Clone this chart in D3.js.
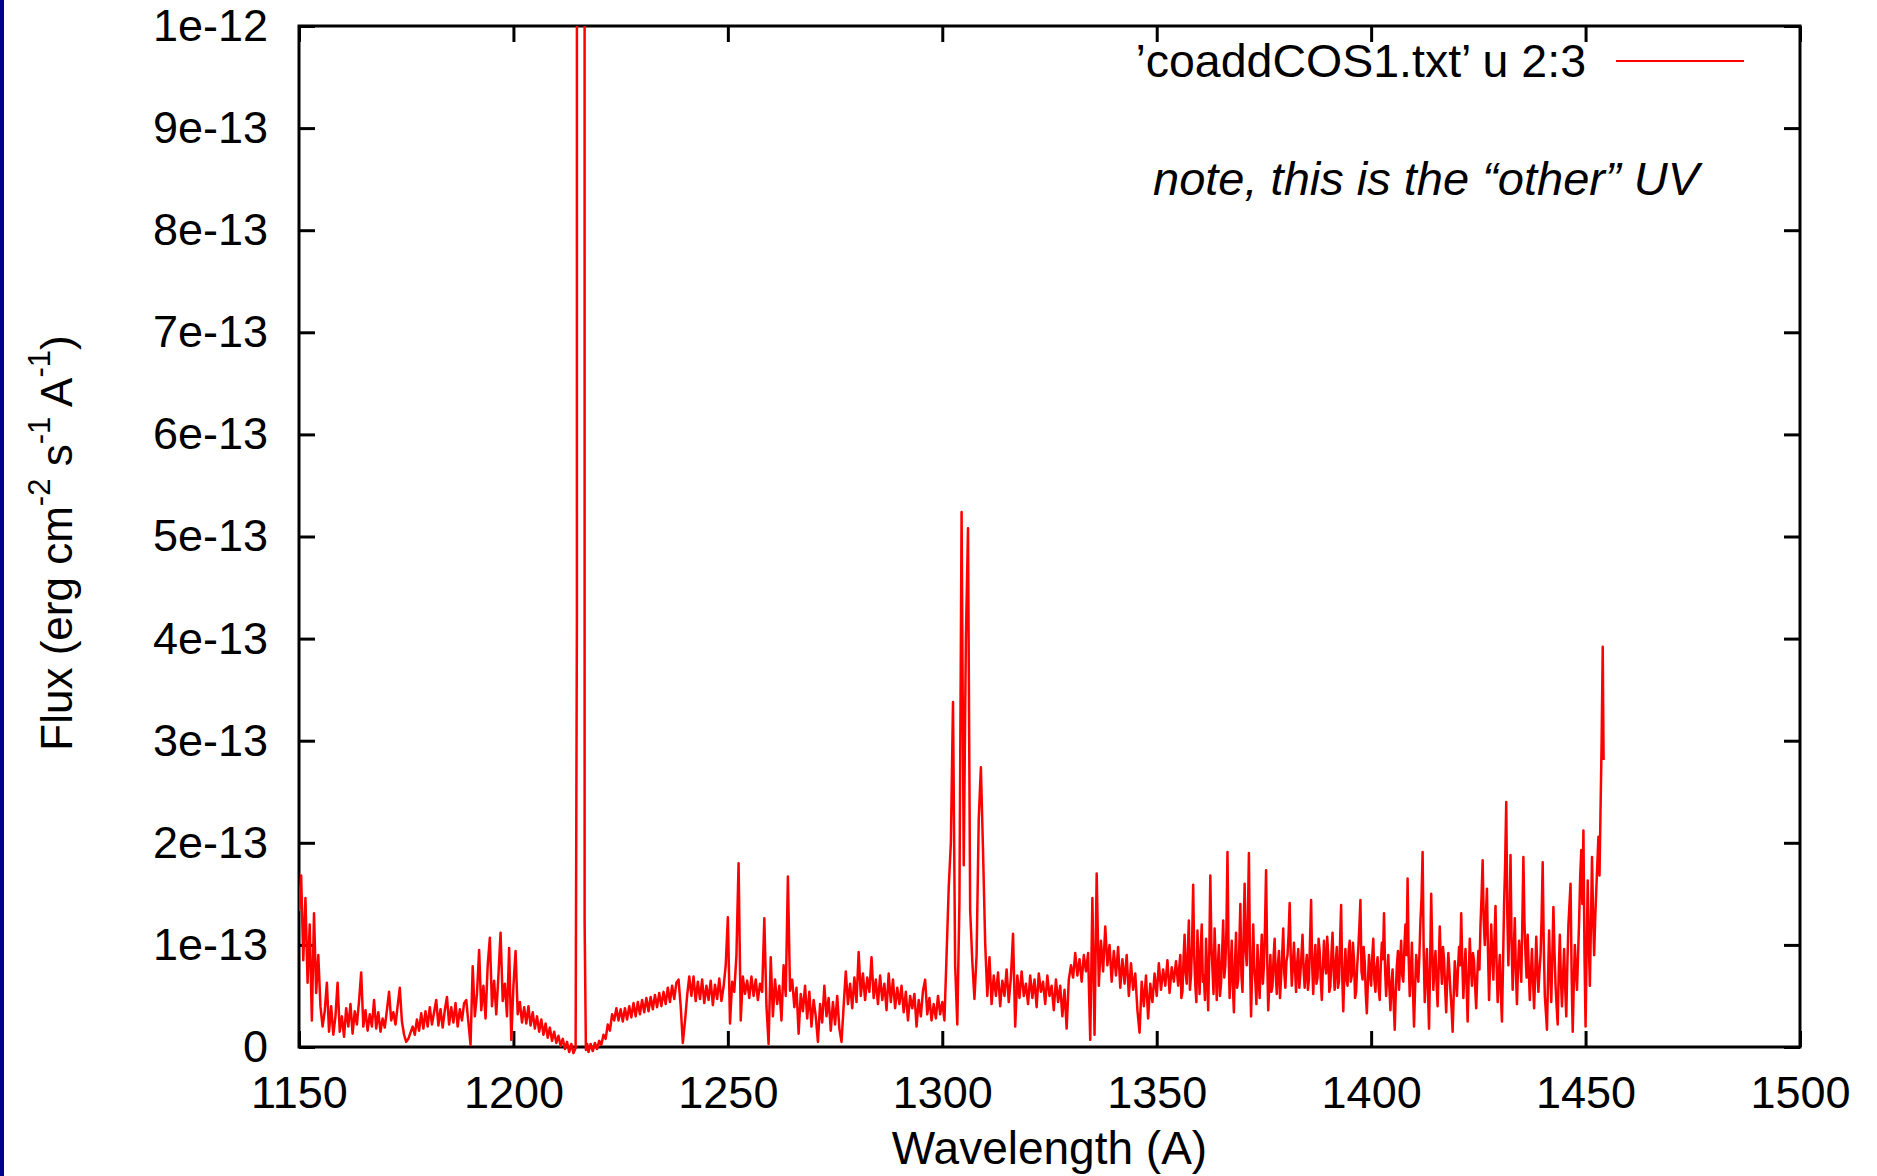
<!DOCTYPE html>
<html><head><meta charset="utf-8">
<script src="https://cdn.jsdelivr.net/npm/d3@7"></script>
<style>
html,body{margin:0;padding:0;background:#fff;}
svg{display:block;}
text{font-family:"Liberation Sans",Arial,Helvetica,sans-serif;fill:#000;}
</style></head><body>
<svg id="chart" width="1877" height="1176"></svg>
<script>
// ---- data ----
const xTicks = [1150,1200,1250,1300,1350,1400,1450,1500];
const xTickLabels = ["1150","1200","1250","1300","1350","1400","1450","1500"];
const yTicks = [0,1e-13,2e-13,3e-13,4e-13,5e-13,6e-13,7e-13,8e-13,9e-13,1e-12];
const yTickLabels = ["0","1e-13","2e-13","3e-13","4e-13","5e-13","6e-13","7e-13","8e-13","9e-13","1e-12"];
const xTitle = "Wavelength (A)";
const legendLabel = "\u2019coaddCOS1.txt\u2019 u 2:3";
const noteText = "note, this is the \u201cother\u201d UV";
const fluxUnit = 1e-14; // flux values below are in units of 1e-14 erg cm^-2 s^-1 A^-1
// [wavelength (A), flux (1e-14)]
const spectrum = [
[1150,13.3],[1150.5,16.8],[1151,8.5],[1151.5,14.6],[1152,6.3],[1152.5,12.0],[1153,2.6],[1153.5,13.1],[1154,5.3],[1154.5,9.0],
[1155,4.0],[1155.5,2.0],[1156,3.5],[1156.5,6.3],[1157,1.5],[1157.5,4.0],[1158,1.2],[1158.5,3.0],[1159,6.3],[1159.5,1.5],
[1160,3.0],[1160.5,1.0],[1161,3.8],[1161.5,2.0],[1162,4.2],[1162.5,1.3],[1163,3.5],[1163.5,2.2],[1164,4.5],[1164.5,7.3],
[1165,2.0],[1165.5,3.6],[1166,1.6],[1166.5,3.2],[1167,2.0],[1167.5,4.6],[1168,1.8],[1168.5,3.4],[1169,1.5],[1169.5,2.8],
[1170,1.9],[1170.5,3.6],[1171,5.4],[1171.5,2.6],[1172,3.4],[1172.5,2.2],[1173,4.0],[1173.5,5.8],[1174,2.5],[1174.5,1.2],
[1175,0.5],[1175.5,0.8],[1176,1.4],[1176.5,2.0],[1177,1.2],[1177.5,2.7],[1178,1.6],[1178.5,3.3],[1179,1.8],[1179.5,3.5],
[1180,2.0],[1180.5,3.9],[1181,2.2],[1181.5,3.4],[1182,4.6],[1182.5,2.1],[1183,3.7],[1183.5,1.9],[1184,3.6],[1184.5,4.9],
[1185,2.2],[1185.5,3.9],[1186,2.4],[1186.5,4.3],[1187,2.0],[1187.5,3.7],[1188,2.6],[1188.5,4.3],[1189,4.6],[1189.5,2.4],
[1190,0.2],[1190.5,7.9],[1191,3.0],[1191.5,5.2],[1192,9.5],[1192.5,3.6],[1193,6.0],[1193.5,2.8],[1194,8.0],[1194.5,10.7],
[1195,4.0],[1195.5,6.5],[1196,3.2],[1196.5,7.0],[1197,11.2],[1197.5,4.5],[1198,6.2],[1198.5,3.0],[1199,9.7],[1199.5,0.7],
[1200,6.0],[1200.5,9.4],[1201,3.2],[1201.5,4.4],[1202,2.4],[1202.5,3.9],[1203,2.3],[1203.5,4.0],[1204,2.1],[1204.5,3.4],
[1205,1.8],[1205.5,3.0],[1206,1.5],[1206.5,2.7],[1207,1.2],[1207.5,2.3],[1208,0.9],[1208.5,1.9],[1209,0.6],[1209.5,1.5],
[1210,0.4],[1210.5,1.1],[1211,0.1],[1211.5,0.8],[1212,-0.2],[1212.5,0.5],[1213,-0.5],[1213.5,0.3],[1214,-0.6],[1214.5,-0.1],
[1214.8,42],[1214.9,3000],[1215.8,3000],[1216.5,3000],[1216.6,12.3],[1216.9,-0.3],
[1217.2,0.3],[1217.5,-0.5],[1218,0.3],[1218.5,-0.4],[1219,0.4],[1219.5,-0.2],[1220,0.6],[1220.5,0.2],[1221,1.2],[1221.5,0.8],
[1222,2.2],[1222.5,1.6],[1223,3.2],[1223.5,2.6],[1224,3.8],[1224.5,2.6],[1225,3.7],[1225.5,2.5],[1226,3.8],[1226.5,2.7],
[1227,4.0],[1227.5,2.9],[1228,4.3],[1228.5,3.0],[1229,4.4],[1229.5,3.2],[1230,4.6],[1230.5,3.4],[1231,4.8],[1231.5,3.5],
[1232,4.9],[1232.5,3.7],[1233,5.1],[1233.5,3.9],[1234,5.3],[1234.5,4.0],[1235,5.4],[1235.5,4.2],[1236,5.8],[1236.5,4.4],
[1237,6.0],[1237.5,4.7],[1238,6.3],[1238.5,6.6],[1239,4.0],[1239.5,0.4],[1240,2.5],[1240.5,5.0],[1241,6.9],[1241.5,5.0],
[1242,6.9],[1242.5,4.5],[1243,6.4],[1243.5,4.7],[1244,6.6],[1244.5,4.3],[1245,6.0],[1245.5,4.6],[1246,6.5],[1246.5,4.1],
[1247,6.1],[1247.5,4.7],[1248,6.7],[1248.5,4.5],[1249,5.9],[1249.5,8.0],[1250,12.7],[1250.5,2.3],[1251,6.4],[1251.5,5.4],
[1252,9.0],[1252.5,18.0],[1253,2.6],[1253.5,6.9],[1254,5.2],[1254.5,6.5],[1255,4.8],[1255.5,6.9],[1256,5.0],[1256.5,6.6],
[1257,4.6],[1257.5,6.2],[1258,5.4],[1258.5,12.6],[1259,4.0],[1259.5,0.3],[1260,8.8],[1260.5,3.0],[1261,6.6],[1261.5,4.2],
[1262,6.0],[1262.5,2.6],[1263,8.0],[1263.5,5.0],[1264,16.7],[1264.5,5.5],[1265,6.6],[1265.5,3.9],[1266,5.8],[1266.5,1.3],
[1267,5.2],[1267.5,3.5],[1268,6.0],[1268.5,2.8],[1269,5.4],[1269.5,2.0],[1270,4.6],[1270.5,3.0],[1271,0.5],[1271.5,4.2],
[1272,2.4],[1272.5,6.0],[1273,3.0],[1273.5,4.8],[1274,1.6],[1274.5,4.4],[1275,2.2],[1275.5,5.0],[1276,1.8],[1276.5,0.5],
[1277,4.0],[1277.5,7.4],[1278,4.2],[1278.5,6.2],[1279,3.8],[1279.5,6.8],[1280,4.4],[1280.5,9.3],[1281,5.0],[1281.5,7.2],
[1282,4.6],[1282.5,6.8],[1283,5.4],[1283.5,8.8],[1284,4.8],[1284.5,6.6],[1285,4.2],[1285.5,7.0],[1286,4.6],[1286.5,6.2],
[1287,3.6],[1287.5,7.2],[1288,4.4],[1288.5,6.6],[1289,3.8],[1289.5,5.8],[1290,4.2],[1290.5,6.0],[1291,3.4],[1291.5,5.4],
[1292,2.6],[1292.5,5.0],[1293,3.8],[1293.5,5.2],[1294,2.0],[1294.5,4.6],[1295,3.0],[1295.5,5.5],[1296,6.6],[1296.5,3.2],
[1297,4.8],[1297.5,2.6],[1298,4.2],[1298.5,2.8],[1299,5.0],[1299.5,3.2],[1300,4.4],[1300.5,2.6],[1301,9.0],[1301.5,15.6],
[1302,20.0],[1302.5,33.8],[1303,8.0],[1303.5,2.2],[1304,14.2],[1304.5,52.4],[1305,17.8],[1305.5,39.9],[1306,50.8],[1306.5,13.4],
[1307,8.4],[1307.5,4.7],[1308,9.0],[1308.5,22.3],[1309,27.4],[1309.5,19.2],[1310,10.2],[1310.5,5.0],[1311,8.8],[1311.5,4.2],
[1312,7.0],[1312.5,5.0],[1313,7.3],[1313.5,4.0],[1314,6.5],[1314.5,5.0],[1315,7.6],[1315.5,4.4],[1316,6.8],[1316.5,11.1],
[1317,2.0],[1317.5,7.0],[1318,4.8],[1318.5,7.4],[1319,5.0],[1319.5,6.2],[1320,4.2],[1320.5,7.0],[1321,4.8],[1321.5,6.6],
[1322,3.9],[1322.5,7.2],[1323,5.4],[1323.5,6.4],[1324,4.2],[1324.5,7.0],[1325,5.0],[1325.5,6.0],[1326,3.6],[1326.5,6.6],
[1327,4.4],[1327.5,6.0],[1328,3.0],[1328.5,5.6],[1329,1.8],[1329.5,6.6],[1330,8.0],[1330.5,6.8],[1331,9.2],[1331.5,7.0],
[1332,8.6],[1332.5,6.4],[1333,9.0],[1333.5,7.4],[1334,9.2],[1334.5,0.7],[1335,14.6],[1335.5,1.2],[1336,17.0],[1336.5,6.0],
[1337,10.4],[1337.5,7.4],[1338,11.8],[1338.5,8.0],[1339,10.0],[1339.5,6.4],[1340,9.4],[1340.5,7.0],[1341,9.8],[1341.5,5.8],
[1342,8.6],[1342.5,6.2],[1343,9.0],[1343.5,5.0],[1344,8.2],[1344.5,5.6],[1345,7.2],[1345.5,3.6],[1346,1.4],[1346.5,6.4],
[1347,4.0],[1347.5,7.0],[1348,2.8],[1348.5,6.2],[1349,4.4],[1349.5,7.2],[1350,5.0],[1350.5,8.2],[1351,5.6],[1351.5,7.6],
[1352,6.0],[1352.5,8.5],[1353,5.3],[1353.5,7.8],[1354,6.4],[1354.5,8.4],
[1355,6.0],[1355.25,7.8],[1355.5,9.0],[1355.75,4.8],[1356,5.4],[1356.25,8.6],[1356.5,11.0],[1356.75,7.2],[1357,6.2],[1357.25,9.4],
[1357.5,12.4],[1357.75,5.6],[1358,7.0],[1358.25,10.2],[1358.5,15.9],[1358.75,8.8],[1359,6.0],[1359.25,4.4],[1359.5,11.4],[1359.75,8.0],
[1360,5.2],[1360.25,9.6],[1360.5,12.0],[1360.75,6.4],[1361,7.0],[1361.25,4.6],[1361.5,10.6],[1361.75,7.4],[1362,3.6],[1362.25,9.0],
[1362.5,16.8],[1362.75,10.0],[1363,7.6],[1363.25,5.2],[1363.5,11.6],[1363.75,8.4],[1364,4.6],[1364.25,7.8],[1364.5,10.0],[1364.75,5.0],
[1365,6.2],[1365.25,9.2],[1365.5,12.4],[1365.75,6.8],[1366,8.0],[1366.25,11.4],[1366.5,19.1],[1366.75,9.6],[1367,4.8],[1367.25,7.6],
[1367.5,10.4],[1367.75,6.0],[1368,3.4],[1368.25,8.2],[1368.5,11.2],[1368.75,5.8],[1369,6.6],[1369.25,9.8],[1369.5,14.0],[1369.75,7.0],
[1370,5.4],[1370.25,10.8],[1370.5,16.0],[1370.75,9.4],[1371,8.0],[1371.25,12.6],[1371.5,19.0],[1371.75,8.6],[1372,3.0],[1372.25,7.4],
[1372.5,12.0],[1372.75,7.8],[1373,6.4],[1373.25,4.2],[1373.5,10.0],[1373.75,7.0],[1374,4.8],[1374.25,8.6],[1374.5,11.0],[1374.75,6.2],
[1375,8.0],[1375.25,11.8],[1375.5,17.3],[1375.75,9.0],[1376,3.6],[1376.25,6.0],[1376.5,9.0],[1376.75,5.4],[1377,6.0],[1377.25,8.8],
[1377.5,10.6],[1377.75,7.0],[1378,5.2],[1378.25,8.0],[1378.5,9.4],[1378.75,4.8],[1379,6.8],[1379.25,9.0],[1379.5,11.6],[1379.75,7.2],
[1380,5.8],[1380.25,8.4],[1380.5,9.0],[1380.75,11.0],[1381,14.1],[1381.25,9.0],[1381.5,6.0],[1381.75,8.0],[1382,10.2],[1382.25,7.6],
[1382.5,5.4],[1382.75,8.2],[1383,9.6],[1383.25,5.8],[1383.5,7.2],[1383.75,9.0],[1384,11.0],[1384.25,7.6],[1384.5,5.8],[1384.75,7.8],
[1385,9.0],[1385.25,5.6],[1385.5,6.6],[1385.75,10.4],[1386,14.4],[1386.25,8.0],[1386.5,5.2],[1386.75,8.4],[1387,10.0],[1387.25,6.2],
[1387.5,6.8],[1387.75,10.6],[1388,9.4],[1388.25,6.6],[1388.5,4.6],[1388.75,7.8],[1389,10.4],[1389.25,8.0],[1389.5,7.2],[1389.75,10.8],
[1390,9.0],[1390.25,5.4],[1390.5,6.0],[1390.75,9.2],[1391,11.2],[1391.25,7.4],[1391.5,5.6],[1391.75,8.4],[1392,9.8],[1392.25,5.8],
[1392.5,6.4],[1392.75,10.2],[1393,13.9],[1393.25,7.0],[1393.5,3.5],[1393.75,7.2],[1394,9.6],[1394.25,6.6],[1394.5,6.0],[1394.75,9.4],
[1395,10.4],[1395.25,6.4],[1395.5,7.0],[1395.75,10.2],[1396,8.6],[1396.25,4.8],[1396.5,5.4],[1396.75,8.0],[1397,9.6],[1397.25,11.8],
[1397.5,14.4],[1397.75,7.4],[1398,6.6],[1398.25,9.8],[1398.5,8.4],[1398.75,5.2],[1399,3.3],[1399.25,6.4],[1399.5,9.0],[1399.75,7.2],
[1400,6.0],[1400.25,8.8],[1400.5,10.6],[1400.75,6.6],[1401,5.4],[1401.25,7.8],[1401.5,8.8],[1401.75,5.8],[1402,4.6],[1402.25,8.0],
[1402.5,10.2],[1402.75,8.6],[1403,13.1],[1403.25,7.6],[1403.5,5.0],[1403.75,7.2],[1404,9.0],[1404.25,5.8],[1404.5,3.6],[1404.75,6.2],
[1405,7.6],[1405.25,4.4],[1405.5,1.7],[1405.75,5.4],[1406,8.0],[1406.25,9.4],[1406.5,5.6],[1406.75,8.2],[1407,10.4],[1407.25,7.0],
[1407.5,6.4],[1407.75,9.8],[1408,12.0],[1408.25,9.0],[1408.5,16.5],[1408.75,8.8],[1409,5.0],[1409.25,7.2],[1409.5,10.2],[1409.75,5.6],
[1410,2.0],[1410.25,5.8],[1410.5,9.0],[1410.75,7.6],[1411,6.4],[1411.25,9.0],[1411.5,12.4],[1411.75,14.6],[1412,19.1],[1412.25,9.4],
[1412.5,4.4],[1412.75,7.0],[1413,9.6],[1413.25,5.6],[1413.5,1.8],[1413.75,8.0],[1414,15.0],[1414.25,9.6],[1414.5,5.6],[1414.75,7.8],
[1415,9.4],[1415.25,6.4],[1415.5,4.0],[1415.75,7.8],[1416,11.8],[1416.25,8.4],[1416.5,6.2],[1416.75,9.8],[1417,8.6],[1417.25,5.8],
[1417.5,3.4],[1417.75,6.8],[1418,9.2],[1418.25,7.4],[1418.5,5.4],[1418.75,3.8],[1419,1.5],[1419.25,5.0],[1419.5,8.4],[1419.75,6.8],
[1420,5.0],[1420.25,7.6],[1420.5,9.8],[1420.75,8.0],[1421,13.1],[1421.25,8.4],[1421.5,4.8],[1421.75,7.4],[1422,9.6],[1422.25,6.2],
[1422.5,2.5],[1422.75,6.8],[1423,10.6],[1423.25,8.0],[1423.5,6.0],[1423.75,9.2],[1424,8.4],[1424.25,5.8],[1424.5,3.8],[1424.75,7.0],
[1425,9.4],[1425.25,7.6],[1425.5,12.0],[1425.75,14.8],[1426,18.3],[1426.25,12.4],[1426.5,10.0],[1426.75,12.8],[1427,15.5],[1427.25,9.2],
[1427.5,4.6],[1427.75,8.4],[1428,12.0],[1428.25,8.8],[1428.5,6.6],[1428.75,10.6],[1429,13.8],[1429.25,8.2],[1429.5,4.4],[1429.75,7.0],
[1430,9.0],[1430.25,5.2],[1430.5,2.5],[1430.75,8.0],[1431,14.0],[1431.25,18.0],[1431.5,24.0],[1431.75,13.0],[1432,8.0],[1432.25,12.4],
[1432.5,18.8],[1432.75,10.2],[1433,5.6],[1433.25,9.4],[1433.5,12.6],[1433.75,7.4],[1434,4.2],[1434.25,7.8],[1434.5,10.4],[1434.75,8.6],
[1435,6.4],[1435.25,12.0],[1435.5,18.6],[1435.75,12.2],[1436,9.0],[1436.25,6.8],[1436.5,11.0],[1436.75,7.6],[1437,4.6],[1437.25,7.2],
[1437.5,9.6],[1437.75,6.4],[1438,3.8],[1438.25,7.0],[1438.5,10.8],[1438.75,7.8],[1439,5.4],[1439.25,7.4],[1439.5,9.0],[1439.75,12.6],
[1440,18.1],[1440.25,10.0],[1440.5,5.0],[1440.75,3.4],[1441,1.7],[1441.25,6.8],[1441.5,11.4],[1441.75,7.2],[1442,4.4],[1442.25,9.0],
[1442.5,13.7],[1442.75,9.4],[1443,6.0],[1443.25,4.0],[1443.5,2.2],[1443.75,7.6],[1444,11.0],[1444.25,6.6],[1444.5,4.0],[1444.75,7.0],
[1445,9.6],[1445.25,5.8],[1445.5,3.0],[1445.75,8.0],[1446,12.0],[1446.25,14.0],[1446.5,16.0],[1446.75,7.0],[1447,1.5],[1447.25,6.2],
[1447.5,10.0],[1447.75,7.4],[1448,5.6],[1448.25,9.0],[1448.5,12.4],[1448.75,16.8],[1449,19.3],[1449.25,14.0],[1449.5,21.2],[1449.75,9.0],
[1450,2.0],[1450.25,9.4],[1450.5,16.3],[1450.75,10.4],[1451,6.0],[1451.25,12.0],[1451.5,18.6],[1451.75,13.0],[1452,9.0],[1452.25,12.6],
[1452.5,15.4],[1452.75,18.0],[1453,20.6],[1453.25,16.8],[1453.5,23.5],[1453.75,30.0],[1454,39.2],[1454.2,28.1]
];

// ---- layout ----
const W = 1877, H = 1176;
const m = {left: 299, right: 1800, top: 26, bottom: 1047};
const FS = 45;

const x = d3.scaleLinear().domain([1150, 1500]).range([m.left, m.right]);
const y = d3.scaleLinear().domain([0, 1e-12]).range([m.bottom, m.top]);

const svg = d3.select("#chart");
svg.append("rect").attr("x",0).attr("y",0).attr("width",W).attr("height",H).attr("fill","#fff");
svg.append("rect").attr("x",0).attr("y",0).attr("width",4).attr("height",H).attr("fill","#00008b");

svg.append("defs").append("clipPath").attr("id","plotclip")
  .append("rect").attr("x", m.left).attr("y", m.top)
  .attr("width", m.right - m.left).attr("height", m.bottom - m.top + 12);

function styleAxis(g){
  g.select(".domain").remove();
  g.selectAll(".tick line").attr("stroke","#000").attr("stroke-width",3);
  g.selectAll(".tick text").style("font-size", FS + "px")
    .style("font-family", '"Liberation Sans",Arial,Helvetica,sans-serif').attr("fill","#000");
}

svg.append("g").attr("transform", `translate(0,${m.bottom})`)
  .call(d3.axisBottom(x).tickValues(xTicks).tickSizeInner(-16).tickSizeOuter(0).tickPadding(29)
    .tickFormat((d,i) => xTickLabels[i]))
  .call(styleAxis);
svg.append("g").attr("transform", `translate(0,${m.top})`)
  .call(d3.axisTop(x).tickValues(xTicks).tickSizeInner(-16).tickSizeOuter(0).tickFormat(""))
  .call(styleAxis);
svg.append("g").attr("transform", `translate(${m.left},0)`)
  .call(d3.axisLeft(y).tickValues(yTicks).tickSizeInner(-16).tickSizeOuter(0).tickPadding(31)
    .tickFormat((d,i) => yTickLabels[i]))
  .call(styleAxis);
svg.append("g").attr("transform", `translate(${m.right},0)`)
  .call(d3.axisRight(y).tickValues(yTicks).tickSizeInner(-16).tickSizeOuter(0).tickFormat(""))
  .call(styleAxis);

svg.append("rect").attr("x", m.left).attr("y", m.top)
  .attr("width", m.right - m.left).attr("height", m.bottom - m.top)
  .attr("fill","none").attr("stroke","#000").attr("stroke-width",3);

// spectrum line
const line = d3.line().x(d => x(d[0])).y(d => y(d[1] * fluxUnit));
svg.append("path").datum(spectrum)
  .attr("clip-path","url(#plotclip)")
  .attr("d", line).attr("fill","none").attr("stroke","#ff0000")
  .attr("stroke-width",2.5).attr("stroke-linejoin","round");

// legend
svg.append("text").attr("x",1586).attr("y",77).attr("text-anchor","end")
  .style("font-size","46.5px").text(legendLabel);
svg.append("line").attr("x1",1616).attr("x2",1744).attr("y1",61).attr("y2",61)
  .attr("stroke","#ff0000").attr("stroke-width",2);

// note
svg.append("text").attr("x",1426).attr("y",195).attr("text-anchor","middle")
  .style("font-size","47px").style("font-style","italic").text(noteText);

// x title
svg.append("text").attr("x",(m.left+m.right)/2).attr("y",1164).attr("text-anchor","middle")
  .style("font-size","46px").text(xTitle);

// y title
const yt = svg.append("text").attr("transform","rotate(-90)")
  .attr("x",-543).attr("y",72).attr("text-anchor","middle").style("font-size","44px");
const sup = 31, shift = 22;
yt.append("tspan").text("Flux (erg cm");
yt.append("tspan").attr("dy",-shift).style("font-size",sup+"px").text("-2");
yt.append("tspan").attr("dy",shift).text(" s");
yt.append("tspan").attr("dy",-shift).style("font-size",sup+"px").text("-1");
yt.append("tspan").attr("dy",shift).text(" A");
yt.append("tspan").attr("dy",-shift).style("font-size",sup+"px").text("-1");
yt.append("tspan").attr("dy",shift).text(")");
</script>
</body></html>
